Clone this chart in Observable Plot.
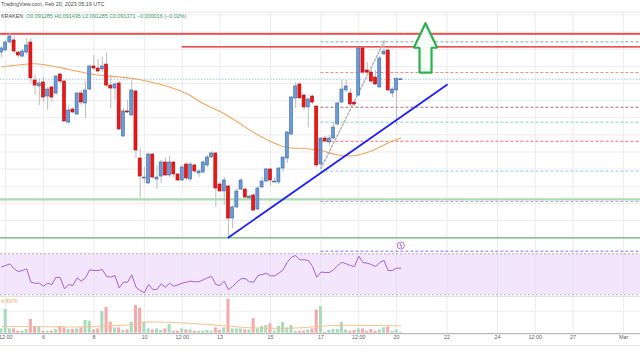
<!DOCTYPE html>
<html><head><meta charset="utf-8">
<script src="https://cdn.jsdelivr.net/npm/d3@7"></script>
<script src="https://cdn.jsdelivr.net/npm/@observablehq/plot@0.6"></script>
<style>
html,body{margin:0;padding:0;background:#fff;}
#chart{position:relative;width:640px;height:360px;overflow:hidden;font-family:"Liberation Sans",Arial,sans-serif;background:#fff;}
#chart svg{position:absolute;left:0;overflow:hidden;}
.txt{position:absolute;white-space:nowrap;font-size:5.4px;line-height:1;}
.sep{position:absolute;left:0;width:640px;height:1px;}
</style></head><body><div id="chart"></div>
<script>
// ---------------- data ----------------
const open = [0.09371,0.09389,0.09459,0.09477,0.09371,0.09336,0.09371,0.09459,0.09126,0.09074,
0.09109,0.08986,0.09065,0.09012,0.09179,0.09117,0.08758,0.08872,0.08828,0.09012,
0.08925,0.09047,0.09249,0.09231,0.09223,0.09266,0.09082,0.09056,0.09100,0.08636,
0.08855,0.08820,0.09030,0.08443,0.08268,0.08224,0.08478,0.08259,0.08285,0.08408,
0.08294,0.08408,0.08303,0.08250,0.08390,0.08259,0.08382,0.08312,0.08320,0.08382,
0.08452,0.08487,0.08215,0.08154,0.08198,0.07917,0.08014,0.08171,0.08171,0.08093,
0.08119,0.07996,0.08189,0.08241,0.08347,0.08233,0.08233,0.08355,0.08443,0.08653,
0.08969,0.09091,0.08995,0.08890,0.08986,0.08898,0.08390,0.08618,0.08583,0.08618,
0.08741,0.08933,0.09039,0.09012,0.08933,0.08995,0.09407,0.09214,0.09196,0.09152,
0.09065,0.09354,0.09389,0.09012,0.09039,0.091285];
const high = [0.09424,0.09477,0.09538,0.09512,0.09380,0.09398,0.09494,0.09494,0.09170,0.09144,
0.09152,0.09065,0.09082,0.09170,0.09188,0.09126,0.08907,0.08890,0.09021,0.09039,
0.09117,0.09258,0.09345,0.09310,0.09328,0.09363,0.09170,0.09109,0.09117,0.08881,
0.08951,0.09126,0.09039,0.08531,0.08364,0.08487,0.08487,0.08382,0.08425,0.08452,
0.08460,0.08417,0.08312,0.08382,0.08408,0.08408,0.08390,0.08347,0.08425,0.08469,
0.08504,0.08495,0.08233,0.08276,0.08206,0.08031,0.08180,0.08268,0.08180,0.08119,
0.08136,0.08198,0.08276,0.08355,0.08355,0.08276,0.08364,0.08452,0.08679,0.08986,
0.09109,0.09109,0.09004,0.08969,0.08995,0.08907,0.08627,0.08636,0.08644,0.08758,
0.08933,0.09126,0.09126,0.09056,0.08951,0.09415,0.09415,0.09284,0.09231,0.09214,
0.09336,0.09477,0.09398,0.09065,0.09152,0.091436];
const low = [0.09328,0.09380,0.09442,0.09363,0.09319,0.09328,0.09354,0.09100,0.08995,0.08907,
0.08933,0.08863,0.08933,0.08995,0.09100,0.08767,0.08741,0.08837,0.08820,0.08907,
0.08793,0.09039,0.09214,0.09196,0.09196,0.09065,0.08881,0.08951,0.08688,0.08627,
0.08837,0.08811,0.08443,0.08093,0.08224,0.08215,0.08268,0.08171,0.08224,0.08285,
0.08276,0.08276,0.08241,0.08241,0.08250,0.08241,0.08312,0.08276,0.08312,0.08364,
0.08443,0.08014,0.08145,0.08031,0.07751,0.07830,0.08005,0.08163,0.08093,0.08084,
0.07979,0.07987,0.08180,0.08233,0.08198,0.08224,0.08215,0.08320,0.08399,0.08644,
0.08881,0.08960,0.08863,0.08714,0.08916,0.08364,0.08355,0.08583,0.08557,0.08609,
0.08732,0.08925,0.09021,0.08898,0.08898,0.08986,0.09179,0.09170,0.09109,0.09082,
0.09056,0.09345,0.09021,0.08977,0.08732,0.091285];
const close = [0.09407,0.09459,0.09512,0.09380,0.09345,0.09380,0.09433,0.09144,0.09082,0.09100,
0.08977,0.09047,0.08977,0.09161,0.09117,0.08767,0.08863,0.08846,0.09012,0.08933,
0.09039,0.09249,0.09231,0.09205,0.09249,0.09082,0.09056,0.09091,0.08697,0.08855,
0.08846,0.09039,0.08513,0.08285,0.08276,0.08478,0.08276,0.08276,0.08408,0.08294,
0.08408,0.08303,0.08250,0.08364,0.08268,0.08390,0.08329,0.08329,0.08408,0.08452,
0.08487,0.08180,0.08154,0.08250,0.07917,0.08014,0.08154,0.08250,0.08101,0.08110,
0.07987,0.08180,0.08241,0.08347,0.08250,0.08241,0.08355,0.08452,0.08671,0.08977,
0.09074,0.08969,0.08890,0.08960,0.08933,0.08382,0.08618,0.08592,0.08618,0.08714,
0.08925,0.09047,0.09074,0.08916,0.08916,0.09407,0.09196,0.09196,0.09117,0.09091,
0.09319,0.09380,0.09039,0.09047,0.09139,0.091371];
const rsi = [57.3,58.6,60.2,55.4,52.7,53.7,55.4,42.3,41.3,41.3,
38.4,41.3,40.0,47.2,46.6,35.8,40.0,39.1,46.6,43.3,
46.6,54.4,53.7,53.7,54.7,47.9,47.2,48.8,36.8,42.3,
42.3,49.5,37.4,34.2,32.0,40.0,35.2,35.2,40.7,37.4,
41.3,38.4,39.7,41.3,42.3,43.3,42.7,42.7,44.6,46.6,
47.9,40.0,39.1,43.3,34.9,38.1,42.3,45.6,45.9,42.7,
42.3,48.8,49.8,51.1,48.5,48.5,51.1,54.4,61.8,66.7,
68.3,64.1,64.1,63.5,57.6,47.2,52.1,51.8,51.8,54.4,
58.6,61.8,60.2,58.6,57.6,67.7,61.5,60.8,59.6,57.6,
61.5,63.5,53.7,53.7,56.0,56.0];
const volume = [4.3,23.7,4.3,4.3,2,2,3.7,13.7,6,6,
2,2,2,3.7,6.7,5.3,3.7,3.7,4.3,5.3,
12.7,12,3.3,4.3,21.7,25.7,11,5.3,5.3,2.7,
3.3,11,27.7,25,11,4.3,3.3,4.3,2.7,4.3,
8.7,2,2,4.3,3.3,3.3,2,2,2,2.7,
2,5.3,2.7,5.3,34,4.3,4.3,4.3,3.3,3.3,
14.7,4.3,6.7,7.7,9.3,2,6.7,10.7,5.3,7.7,
2,2,2,3.3,4.3,23.3,26.7,1,2.7,3.7,
3.7,10.7,3.3,2,2.7,4.3,4.3,2,3.7,2,
3.3,5.3,6,2,3.3,1];
// moving average (price) read at every 4th candle
const maIdx = [0,4,8,12,16,20,24,28,32,36,40,44,48,52,56,60,64,68,72,76,80,84,88,92,95];
const maVal = [0.09245,0.09262,0.09273,0.09253,0.09223,0.09192,0.09170,0.09157,0.09139,0.09109,0.09069,0.09012,
0.08925,0.08855,0.08767,0.08671,0.08592,0.08539,0.08531,0.08513,0.08474,0.08469,0.08509,0.08579,0.08623];
// volume moving average, read at a few candles
const vmaIdx = [0,9,19,26,32,34,39,44,49,54,59,69,75,79,89,95];
const vmaVal = [6.7,6.5,6.3,7.5,9,11,11,10,8.7,7,5.5,5,6.5,7.7,7.7,7.3];
// horizontal levels
const resistance = [0.09535, 0.09421];
const support = [0.08084, 0.07748];
const fibLevels = [0.09465,0.09196,0.08892,0.08761,0.08594,0.08332,0.08066,0.07631];
const priceGrid = [0.0970,0.0955,0.0940,0.0925,0.0910,0.0895,0.0880,0.0865,0.0850,0.0835,0.0820,0.0805,0.0790,0.0775];
const rsiBand = [30, 70];
const tickDates = ["2023-02-04T12:00Z","2023-02-06T00:00Z","2023-02-08T00:00Z","2023-02-10T00:00Z","2023-02-11T12:00Z",
"2023-02-13T00:00Z","2023-02-15T00:00Z","2023-02-17T00:00Z","2023-02-18T12:00Z","2023-02-20T00:00Z","2023-02-22T00:00Z",
"2023-02-24T00:00Z","2023-02-25T12:00Z","2023-02-27T00:00Z","2023-03-01T00:00Z"].map(s=>new Date(s));
const tickLabels = ["12:00","6","8","10","12:00","13","15","17","12:00","20","22","24","12:00","27","Mar"];
// drawings
const trendLine = [{date:"2023-02-13T08:00Z", p:0.07751},{date:"2023-02-22T00:00Z", p:0.09089}];
const fibDiag = [{date:"2023-02-17T00:00Z", p:0.08355},{date:"2023-02-19T12:00Z", p:0.09465}];
const arrow = [["2023-02-21T03:30Z",0.09628],["2023-02-21T14:40Z",0.09413],["2023-02-21T09:15Z",0.09413],
["2023-02-21T09:15Z",0.09196],["2023-02-20T21:50Z",0.09196],["2023-02-20T21:50Z",0.09413],
["2023-02-20T16:25Z",0.09413],["2023-02-21T03:30Z",0.09628]];
const eventMark = [{date:"2023-02-20T04:00Z", p:0.07681}];

// ---------------- build ----------------
const HOUR = 3600e3;
const dates = d3.utcHour.every(4).range(new Date("2023-02-04T08:00Z"), new Date("2023-02-20T08:00Z"));
const candles = dates.map((d,i)=>({date:d, open:open[i], high:high[i], low:low[i], close:close[i], rsi:rsi[i], volume:volume[i], up: close[i]>=open[i]}));
const maPts = maIdx.map((k,i)=>({date:dates[k], v:maVal[i]}));
const vmaPts = vmaIdx.map((k,i)=>({date:dates[k], v:vmaVal[i]}));
const toDate = a => a.map(d=>({...d, date:new Date(d.date)}));
const xDomain = [new Date("2023-02-04T07:05Z"), new Date("2023-03-01T16:07Z")];
const fibStart = new Date("2023-02-17T00:00Z");
const lineBStart = new Date("2023-02-11T12:00Z");
const xs = {type:"utc", domain:xDomain, range:[0,640], axis:null};
const grid = "#ececec";
const fibColors = ["#a0a0a0","#f08a8a","#a87080","#7fd3c0","#f06b6b","#93c9ec","#c7a0e2","#7575f2"];
const priceDomain = [0.076195, 0.09827];
const half = 1.45*HOUR;

const chart = document.getElementById("chart");

const price = Plot.plot({
  width:640, height:252, margin:0,
  x: xs,
  y: {domain:priceDomain, range:[252,0], axis:null},
  color:{type:"identity"},
  marks:[
    Plot.ruleY(priceGrid, {stroke:grid, strokeWidth:1}),
    Plot.ruleY([0.097245], {stroke:"#e6e6e6"}),
    Plot.ruleX(tickDates, {x:d=>d, y1:()=>0.097245, y2:()=>priceDomain[0], stroke:grid}),
    Plot.ruleY([close[95]], {stroke:"#9ccaf0", strokeDasharray:"1.5,1.5"}),
    Plot.ruleY(fibLevels, {x1:()=>fibStart, x2:()=>xDomain[1], stroke:(d,i)=>fibColors[i], strokeDasharray:"3,2", strokeWidth:1}),
    Plot.ruleY([resistance[0]], {stroke:"#f2a0a0", strokeWidth:2.4}),
    Plot.ruleY([resistance[0]], {stroke:"#e83a3a", strokeWidth:1.1}),
    Plot.ruleY([resistance[1]], {x1:()=>lineBStart, x2:()=>xDomain[1], stroke:"#e31b1b", strokeWidth:1.3}),
    Plot.ruleY([support[0]], {stroke:"#a9dbab", strokeWidth:2.2}),
    Plot.ruleY([support[1]], {stroke:"#63b967", strokeWidth:1.3}),
    Plot.line(maPts, {x:"date", y:"v", stroke:"#f3a45c", strokeWidth:1.1, curve:"catmull-rom"}),
    Plot.line(toDate(fibDiag), {x:"date", y:"p", stroke:"#b5b5b5", strokeDasharray:"2,2"}),
    Plot.ruleX(candles, {x:"date", y1:"low", y2:"high", stroke:"#bdbdbd", strokeWidth:1}),
    Plot.rect(candles, {x1:d=>new Date(+d.date-half), x2:d=>new Date(+d.date+half), y1:"open", y2:"close",
      fill:d=>d.up?"#6b9bd6":"#ee1515", stroke:d=>d.up?"#3b6aa8":"#b31010", strokeWidth:0.6}),
    Plot.line(toDate(trendLine), {x:"date", y:"p", stroke:"#1e1eff", strokeWidth:1.8}),
    Plot.line(arrow, {x:d=>new Date(d[0]), y:d=>d[1], stroke:"#2bb24c", strokeWidth:2.2, fill:"#f6fcf7", strokeLinejoin:"miter"}),
    Plot.dot(toDate(eventMark), {x:"date", y:"p", r:3.6, stroke:"#b060d4", fill:"#fff", strokeWidth:0.9}),
    Plot.text(toDate(eventMark), {x:"date", y:"p", text:()=>"ϟ", fill:"#b060d4", fontSize:5.5, fontWeight:"bold"})
  ]
});
price.style.top = "0px";
chart.appendChild(price);

const rsiPlot = Plot.plot({
  width:640, height:46, margin:0,
  x: xs,
  y: {domain:[26.39,71.27], range:[46,0], axis:null},
  marks:[
    Plot.rect([rsiBand], {x1:()=>xDomain[0], x2:()=>xDomain[1], y1:d=>d[0], y2:d=>d[1], fill:"#f3e6fc"}),
    Plot.ruleX(tickDates, {x:d=>d, stroke:"#e6e0ea"}),
    Plot.ruleY(rsiBand, {stroke:"#b8b0c2", strokeDasharray:"2,2"}),
    Plot.line(candles, {x:"date", y:"rsi", stroke:"#a95fd3", strokeWidth:1})
  ]
});
rsiPlot.style.top = "252px";
chart.appendChild(rsiPlot);

const volPlot = Plot.plot({
  width:640, height:47, marginTop:0, marginLeft:0, marginRight:0, marginBottom:12.3,
  x: xs,
  y: {domain:[0,34.7], range:[34.7,0], axis:null},
  color:{type:"identity"},
  marks:[
    Plot.ruleX(tickDates, {x:d=>d, stroke:grid}),
    Plot.ruleY([22], {stroke:grid}),
    Plot.rectY(candles, {x1:d=>new Date(+d.date-half), x2:d=>new Date(+d.date+half), y:"volume",
      fill:d=>d.up?"#a6dcbb":"#f6a9ab"}),
    Plot.line(vmaPts, {x:"date", y:"v", stroke:"#f9c08c", strokeWidth:1, curve:"catmull-rom"}),
    Plot.ruleY([0], {stroke:"#a8a8a8", dy:0.5}),
    Plot.text(tickDates, {x:d=>d, text:(d,i)=>tickLabels[i], frameAnchor:"bottom", dy:5.8, fontSize:5.4, fill:"#5d606b", fontFamily:"Liberation Sans, Arial, sans-serif"})
  ]
});
volPlot.style.top = "298px";
chart.appendChild(volPlot);

// separators & texts
function addDiv(cls, css, html){ const d=document.createElement("div"); d.className=cls; d.style.cssText=css; if(html) d.innerHTML=html; chart.appendChild(d); }
addDiv("sep","top:296px;background:#e2e2e2;");
addDiv("sep","top:345px;background:#e8e8e8;");
addDiv("txt","left:1px;top:2px;color:#4b4b4b;","TradingView.com, Feb 20, 2023 05:19 UTC");
addDiv("txt","left:1px;top:14px;color:#4b4b4b;","KRAKEN &nbsp;<span style='color:#3c9a6c'>O0.091285 H0.091436 L0.091285 C0.091371 −0.000016 (−0.02%)</span>");
addDiv("txt","left:1px;top:299px;color:#f3a45c;","4.897K");
</script></body></html>
